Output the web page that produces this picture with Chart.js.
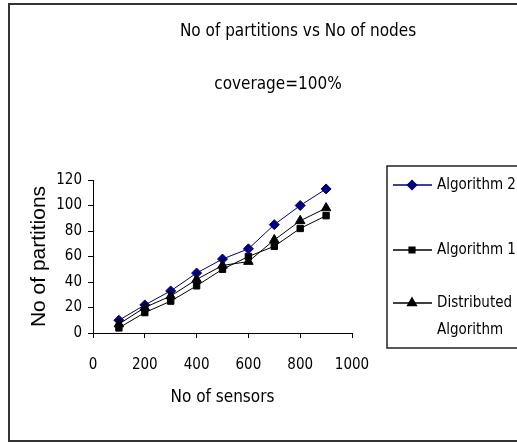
<!DOCTYPE html>
<html>
<head>
<meta charset="utf-8">
<script src="https://cdn.jsdelivr.net/npm/chart.js@4/dist/chart.umd.min.js"></script>
<style>
html,body{margin:0;padding:0;background:#fff;}
#wrap{position:relative;width:517px;height:443px;}
</style>
</head>
<body>
<div id="wrap"><canvas id="c" width="517" height="443"></canvas></div>
<script>
const FONT = "'DejaVu Sans Condensed', 'Liberation Sans Narrow', sans-serif";
const FONT_Y = "'Liberation Sans', Arial, sans-serif";

const titleText = "No of partitions vs No of nodes";
const subtitleText = "coverage=100%";
const xTitle = "No of sensors";
const yTitle = "No of partitions";

const sensors = [100, 200, 300, 400, 500, 600, 700, 800, 900];
const algorithm2 = [10, 22, 33, 47, 58, 66, 85, 100, 113];
const algorithm1 = [4, 16, 25, 37, 50, 60, 68, 82, 92];
const distributed = [7, 20, 29, 42, 53, 56, 73, 88, 98];

const seriesLabels = ["Algorithm 2", "Algorithm 1", "Distributed Algorithm"];
const xTicks = [0, 200, 400, 600, 800, 1000];
const yTicks = [0, 20, 40, 60, 80, 100, 120];

function pts(vals){ return sensors.map((s,i)=>({x:s,y:vals[i]})); }

const framePlugin = {
  id:'frame',
  beforeDraw(chart){
    const ctx = chart.ctx;
    ctx.save();
    ctx.fillStyle = '#fff';
    ctx.fillRect(0,0,chart.width,chart.height);
    ctx.strokeStyle = '#333';
    ctx.lineWidth = 2;
    ctx.strokeRect(9,4,520,437);
    ctx.restore();
  }
};

const titlesPlugin = {
  id:'titles',
  afterDraw(chart){
    const ctx = chart.ctx;
    ctx.save();
    ctx.fillStyle = '#000';
    ctx.font = "17px " + FONT;
    ctx.textAlign = 'center';
    ctx.textBaseline = 'middle';
    ctx.fillText(titleText, 298, 32);
    ctx.fillText(subtitleText, 278, 85);
    ctx.restore();
  }
};

const legendPlugin = {
  id:'boxLegend',
  afterDraw(chart){
    const ctx = chart.ctx;
    ctx.save();
    ctx.strokeStyle = '#222';
    ctx.lineWidth = 1.5;
    ctx.strokeRect(387,166,140,182);
    ctx.font = "15px " + FONT;
    ctx.textBaseline = 'middle';
    ctx.textAlign = 'left';
    const ys = [185, 250, 303];
    chart.data.datasets.forEach((ds, i) => {
      const y = ys[i];
      ctx.strokeStyle = ds.borderColor;
      ctx.lineWidth = 1.5;
      ctx.beginPath(); ctx.moveTo(393,y); ctx.lineTo(432,y); ctx.stroke();
      ctx.fillStyle = ds.pointBackgroundColor;
      Chart.helpers.drawPoint(ctx, {pointStyle: ds.pointStyle, radius: ds.pointRadius - 0.5, borderWidth:1, rotation:0}, 412, y);
      ctx.fillStyle = '#000';
      const words = ds.label.split(' ');
      const lines = [];
      let cur = '';
      words.forEach(w => {
        const t = cur ? cur + ' ' + w : w;
        if (ctx.measureText(t).width > 80 && cur) { lines.push(cur); cur = w; } else cur = t;
      });
      lines.push(cur);
      lines.forEach((l, k) => ctx.fillText(l, 437, y + k*27));
    });
    ctx.restore();
  }
};

new Chart(document.getElementById('c'), {
  type: 'line',
  data: {
    datasets: [
      { label: seriesLabels[0], data: pts(algorithm2), borderColor:'#000080', backgroundColor:'#000080',
        pointBackgroundColor:'#000080', pointBorderColor:'#000080', pointStyle:'rectRot', pointRadius:5, borderWidth:1, order:1 },
      { label: seriesLabels[1], data: pts(algorithm1), borderColor:'#000', backgroundColor:'#000',
        pointBackgroundColor:'#000', pointBorderColor:'#000', pointStyle:'rect', pointRadius:4.5, borderWidth:1, order:2 },
      { label: seriesLabels[2], data: pts(distributed), borderColor:'#000', backgroundColor:'#000',
        pointBackgroundColor:'#000', pointBorderColor:'#000', pointStyle:'triangle', pointRadius:5.5, borderWidth:1, order:0 }
    ]
  },
  options: {
    responsive:false,
    animation:false,
    devicePixelRatio:1,
    layout:{ padding:{ left:27, top:180, right:165, bottom:35 } },
    plugins:{ legend:{display:false}, title:{display:false}, tooltip:{enabled:false} },
    elements:{ line:{ tension:0 } },
    scales:{
      x:{
        type:'linear', min:0, max:1000,
        afterBuildTicks(s){ s.ticks = xTicks.map(v=>({value:v})); },
        afterFit(s){ s.height = 75; },
        border:{ display:true, color:'#000', width:1 },
        grid:{ display:true, drawOnChartArea:false, drawTicks:true, tickLength:5, color:'#000' },
        ticks:{ color:'#000', padding:18, maxRotation:0, callback:(v)=>String(v), font:{ family:FONT, size:15 } },
        title:{ display:true, text:xTitle, color:'#000', padding:0, font:{ family:FONT, size:17 } }
      },
      y:{
        type:'linear', min:0, max:120,
        afterBuildTicks(s){ s.ticks = yTicks.map(v=>({value:v})); },
        afterFit(s){ s.width = 66; },
        border:{ display:true, color:'#000', width:1 },
        grid:{ display:true, drawOnChartArea:false, drawTicks:true, tickLength:5, color:'#000' },
        ticks:{ color:'#000', padding:6, callback:(v)=>String(v), font:{ family:FONT, size:15 } },
        title:{ display:true, text:yTitle, color:'#000', padding:0, font:{ family:FONT_Y, size:21 } }
      }
    }
  },
  plugins:[framePlugin, titlesPlugin, legendPlugin]
});
</script>
</body>
</html>
